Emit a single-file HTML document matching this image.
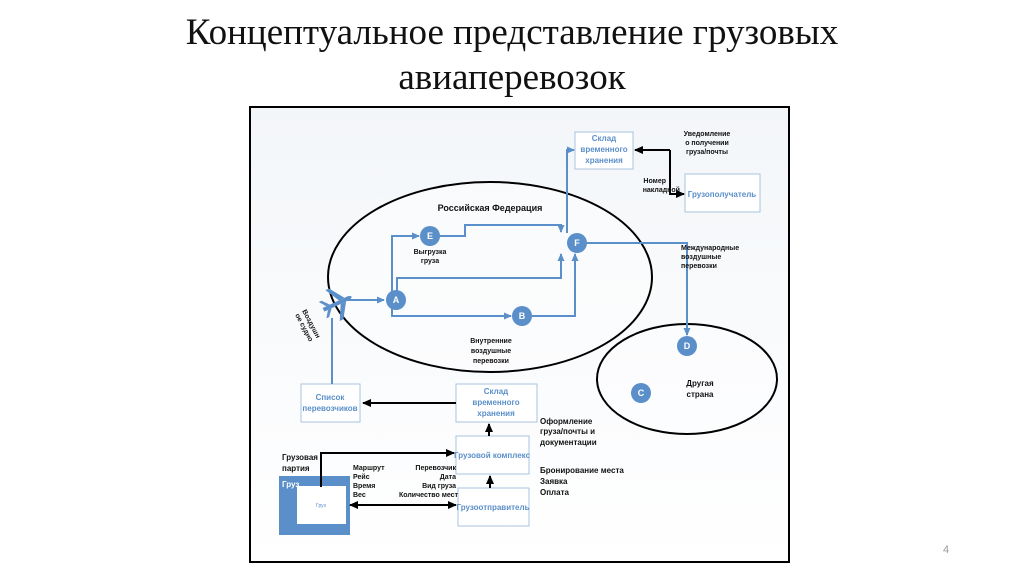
<!DOCTYPE html>
<html><head><meta charset="utf-8"><style>
body{margin:0;width:1024px;height:576px;background:#fff;overflow:hidden;font-family:"Liberation Sans",sans-serif}
.t{position:absolute;left:0;width:1024px;text-align:center;font-family:"Liberation Serif",serif;font-size:37px;color:#111;line-height:44px}
</style></head><body>
<div class="t" style="top:11px">Концептуальное представление грузовых</div>
<div class="t" style="top:56px">авиаперевозок</div>
<svg width="1024" height="576" style="position:absolute;left:0;top:0" font-family="Liberation Sans, sans-serif">
<defs>
<linearGradient id="bg" x1="0" y1="0" x2="0" y2="1"><stop offset="0" stop-color="#f3f6f9"/><stop offset="1" stop-color="#ffffff"/></linearGradient>
<marker id="ab" markerWidth="8" markerHeight="8" refX="7" refY="4" orient="auto" markerUnits="userSpaceOnUse"><path d="M0,0.5 L8,4 L0,7.5z" fill="#5b8fc9"/></marker>
<marker id="ak" markerWidth="9" markerHeight="9" refX="8" refY="4.5" orient="auto" markerUnits="userSpaceOnUse"><path d="M0,0.5 L9,4.5 L0,8.5z" fill="#000"/></marker>
<marker id="aks" markerWidth="9" markerHeight="9" refX="1" refY="4.5" orient="auto" markerUnits="userSpaceOnUse"><path d="M9,0.5 L0,4.5 L9,8.5z" fill="#000"/></marker>
</defs>
<rect x="250" y="107" width="539" height="455" fill="url(#bg)" stroke="#000" stroke-width="2"/>
<text x="943" y="553" font-size="11" fill="#999">4</text>
<ellipse cx="490" cy="277" rx="162" ry="95" fill="#fff" fill-opacity="0.4" stroke="#000" stroke-width="2"/>
<ellipse cx="687" cy="379" rx="90" ry="55" fill="#fff" fill-opacity="0.4" stroke="#000" stroke-width="2"/>
<g fill="#fff" stroke="#a9c3de">
<rect x="575" y="132" width="58" height="37"/>
<rect x="685" y="174" width="75" height="38"/>
<rect x="301" y="384" width="59" height="38"/>
<rect x="456" y="384" width="81" height="38"/>
<rect x="456" y="436" width="73" height="38"/>
<rect x="458" y="488" width="71" height="38"/>
</g>
<g fill="#5b8fc9" font-size="8" font-weight="bold" text-anchor="middle">
<text x="604" y="141">Склад</text><text x="604" y="152">временного</text><text x="604" y="163">хранения</text>
<text x="722" y="197">Грузополучатель</text>
<text x="330" y="400">Список</text><text x="330" y="411">перевозчиков</text>
<text x="496" y="394">Склад</text><text x="496" y="405">временного</text><text x="496" y="416">хранения</text>
<text x="492" y="458">Грузовой комплекс</text>
<text x="493" y="510">Грузоотправитель</text>
</g>
<rect x="279" y="476" width="71" height="59" fill="#5b8fc9"/>
<rect x="297" y="486" width="49" height="38" fill="#fff"/>
<text x="282" y="487" font-size="8" fill="#fff" font-weight="bold">Груз</text>
<text x="321" y="507" font-size="5" fill="#5b8fc9" text-anchor="middle">Груз</text>
<g stroke="#5b8fc9" stroke-width="2" fill="none">
<path d="M345,300 H384" marker-end="url(#ab)"/>
<path d="M392,300 V236 H419" marker-end="url(#ab)"/>
<path d="M436,236 H465 V225 H561 V232" marker-end="url(#ab)"/>
<path d="M397,300 V278 H561 V254" marker-end="url(#ab)"/>
<path d="M392,300 V316 H511" marker-end="url(#ab)"/>
<path d="M532,316 H575 V254" marker-end="url(#ab)"/>
<path d="M567,233 V150 H574" marker-end="url(#ab)"/>
<path d="M586,243 H687 V335" marker-end="url(#ab)"/>
<path d="M332,318 V384"/>
</g>
<g fill="#5b8fc9">
<circle cx="430" cy="236" r="10"/><circle cx="577" cy="243" r="10"/><circle cx="396" cy="300" r="10"/>
<circle cx="522" cy="316" r="10"/><circle cx="687" cy="346" r="10"/><circle cx="641" cy="393" r="10"/>
<g transform="translate(338,303) rotate(-25)">
<path d="M-16,-2 L12,-2 Q18,0 12,2 L-16,2 Z"/>
<path d="M2,-2 L-6,-17 L-2,-17 L8,-2 Z"/>
<path d="M2,2 L-6,17 L-2,17 L8,2 Z"/>
<path d="M-12,-2 L-17,-9 L-14,-9 L-8,-2 Z"/>
<path d="M-12,2 L-17,9 L-14,9 L-8,2 Z"/>
</g>
</g>
<g fill="#fff" font-size="9" font-weight="bold" text-anchor="middle">
<text x="430" y="239">E</text><text x="577" y="246">F</text><text x="396" y="303">A</text>
<text x="522" y="319">B</text><text x="687" y="349">D</text><text x="641" y="396">C</text>
</g>
<g stroke="#000" stroke-width="2" fill="none">
<path d="M670,150 H635" marker-end="url(#ak)"/>
<path d="M670,150 V194 H684" marker-end="url(#ak)"/>
<path d="M456,403 H363" marker-end="url(#ak)"/>
<path d="M489,436 V424" marker-end="url(#ak)"/>
<path d="M490,488 V476" marker-end="url(#ak)"/>
<path d="M321,487 V453 H454" marker-end="url(#ak)"/>
<path d="M350,505 H456" marker-end="url(#ak)" marker-start="url(#aks)"/>
</g>
<g font-size="7" fill="#111" font-weight="bold">
<text x="490" y="211" font-size="9" text-anchor="middle">Российская Федерация</text>
<text x="430" y="254" text-anchor="middle">Выгрузка</text><text x="430" y="263" text-anchor="middle">груза</text>
<text x="491" y="343" text-anchor="middle">Внутренние</text><text x="491" y="353" text-anchor="middle">воздушные</text><text x="491" y="363" text-anchor="middle">перевозки</text>
<text x="707" y="136" text-anchor="middle">Уведомление</text><text x="707" y="145" text-anchor="middle">о получении</text><text x="707" y="154" text-anchor="middle">груза/почты</text>
<text x="666" y="183" text-anchor="end">Номер</text><text x="680" y="192" text-anchor="end">накладной</text>
<text x="681" y="250">Международные</text><text x="681" y="259">воздушные</text><text x="681" y="268">перевозки</text>
<text x="700" y="386" font-size="8" text-anchor="middle">Другая</text><text x="700" y="397" font-size="8" text-anchor="middle">страна</text>
<text transform="translate(302,311) rotate(62)">Воздушн</text><text transform="translate(295,315) rotate(62)">ое судно</text>
<text x="540" y="424" font-size="8">Оформление</text><text x="540" y="434" font-size="8">груза/почты и</text><text x="540" y="445" font-size="8">документации</text>
<text x="540" y="473" font-size="8">Бронирование места</text><text x="540" y="484" font-size="8">Заявка</text><text x="540" y="495" font-size="8">Оплата</text>
<text x="282" y="460" font-size="8">Грузовая</text><text x="282" y="471" font-size="8">партия</text>
<text x="353" y="470">Маршрут</text><text x="353" y="479">Рейс</text><text x="353" y="488">Время</text><text x="353" y="497">Вес</text>
<text x="456" y="470" text-anchor="end">Перевозчик</text><text x="456" y="479" text-anchor="end">Дата</text><text x="456" y="488" text-anchor="end">Вид груза</text><text x="458" y="497" text-anchor="end">Количество мест</text>
</g>
</svg>
</body></html>
